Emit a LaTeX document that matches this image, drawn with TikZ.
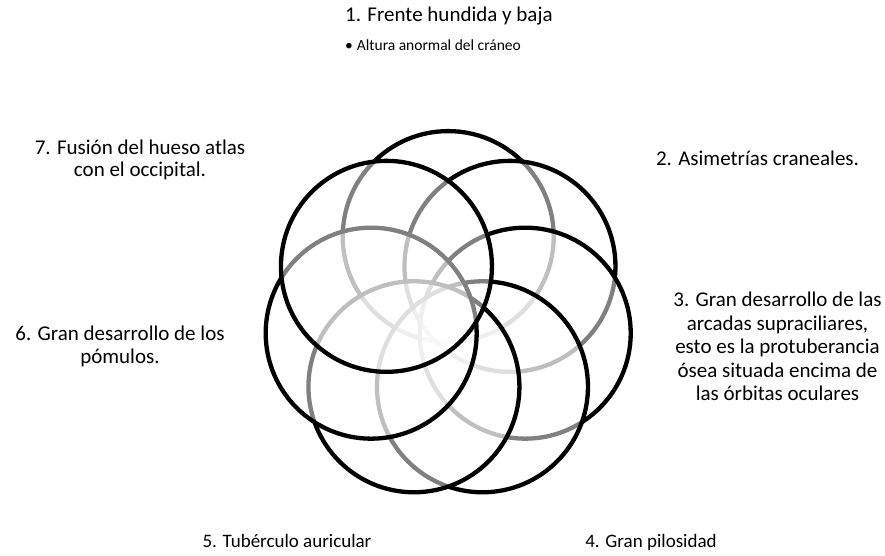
\documentclass[tikz,border=0pt]{standalone}
\usepackage{fontspec}
\setmainfont{Carlito}
\begin{document}
\begin{tikzpicture}[x=1pt,y=-1pt,
  ring/.style={circle, draw=black, line width=4.3pt, fill=white, fill opacity=0.5, inner sep=0pt, minimum size=211pt},
  lbl/.style={font=\fontsize{21}{22.5}\selectfont, align=center, inner sep=0pt},
  lblw/.style={font=\fontsize{21}{23.5}\selectfont, align=center, inner sep=0pt},
  lbls/.style={font=\fontsize{19}{22}\selectfont, align=center, inner sep=0pt},
  sub/.style={font=\fontsize{15.5}{18}\selectfont, inner sep=0pt}]
\useasboundingbox (0,0) rectangle (885,556);
\fill[white] (0,0) rectangle (885,556);
\def\cx{448.2}\def\cy{315.6}\def\R{79}
\foreach \k in {1,...,7}{
  \pgfmathsetmacro\ang{90-(\k-1)*360/7}
  \node[ring] (c\k) at ({\cx+\R*cos(\ang)},{\cy-\R*sin(\ang)}) {};
}
\node[lbl, anchor=base west] (t1) at (345,22) {1. Frente hundida y baja};
\node[sub, anchor=base west] (t1b) at (345,50.7) {•\hspace{4pt}Altura anormal del cráneo};
\node[lbl, anchor=base] (t2) at (757.5,166) {2. Asimetrías craneales.};
\node[lblw, anchor=base] (t3) at (777.5,400.7) {3. Gran desarrollo de las\\arcadas supraciliares,\\esto es la protuberancia\\ósea situada encima de\\las órbitas oculares};
\node[lbls, anchor=base] (t4) at (651,547) {4. Gran pilosidad};
\node[lbls, anchor=base] (t5) at (287,547) {5. Tubérculo auricular};
\node[lbl, anchor=base] (t6) at (120,363.3) {6. Gran desarrollo de los\\pómulos.};
\node[lbl, anchor=base] (t7) at (140,176.7) {7. Fusión del hueso atlas\\con el occipital.};
\end{tikzpicture}
\end{document}
